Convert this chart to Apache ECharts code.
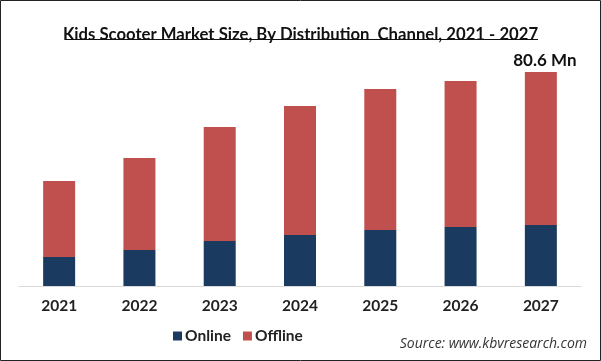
<!DOCTYPE html>
<html>
<head>
<meta charset="utf-8">
<script src="https://cdn.jsdelivr.net/npm/echarts@6/dist/echarts.min.js"></script>
<style>
html,body{margin:0;padding:0;background:#fff;}
#c{width:601px;height:361px;}
</style>
</head>
<body>
<div id="c"></div>
<script>
var years = ['2021','2022','2023','2024','2025','2026','2027'];
var online = [10.9, 13.6, 16.9, 19.2, 21.1, 22.2, 23.0];
var offline = [28.6, 34.6, 43.0, 48.6, 53.1, 55.0, 57.6];
var totalLabel = '80.6 Mn';

var chart = echarts.init(document.getElementById('c'));
var font = 'Lato, "Open Sans", sans-serif';
chart.setOption({
  backgroundColor: '#fff',
  animation: false,
  title: {
    text: 'Kids Scooter Market Size, By Distribution  Channel, 2021 - 2027',
    left: 'center', top: 21,
    textStyle: { fontFamily: font, fontWeight: 'bold', fontSize: 16.7, color: '#111' }
  },
  graphic: [
    { type: 'line', shape: { x1: 65, y1: 39.5, x2: 538, y2: 39.5 }, style: { stroke: '#111', lineWidth: 1 } },
    { type: 'rect', shape: { x: 0.5, y: 0.5, width: 600, height: 360 }, style: { fill: 'none', stroke: '#222', lineWidth: 1 } },
    { type: 'text', right: 14, top: 337, style: { text: 'Source: www.kbvresearch.com', font: 'italic 14px "Open Sans", sans-serif', fill: '#333' } }
  ],
  legend: {
    data: ['Online', 'Offline'],
    bottom: 12, left: 168,
    itemWidth: 9, itemHeight: 9, itemGap: 12, icon: 'rect',
    textStyle: { fontFamily: font, fontWeight: 'bold', fontSize: 15.5, color: '#222', padding: [0,0,0,-2] }
  },
  grid: { left: 19, right: 20, top: 47, bottom: 75 },
  xAxis: {
    type: 'category', data: years,
    axisLine: { lineStyle: { color: '#d9d9d9' } },
    axisTick: { show: false },
    axisLabel: { fontFamily: font, fontWeight: 'bold', fontSize: 15.5, color: '#222', margin: 12 }
  },
  yAxis: { type: 'value', min: 0, max: 90, show: false, splitLine: { show: false } },
  series: [
    { name: 'Online', type: 'bar', stack: 's', data: online, barWidth: 32, itemStyle: { color: '#1b3a5f' } },
    { name: 'Offline', type: 'bar', stack: 's', data: offline, barWidth: 32, itemStyle: { color: '#c0504d' },
      label: { show: true, position: 'top', distance: 3, offset: [4, 0], fontFamily: font, fontWeight: 'bold', fontSize: 17, color: '#111',
        formatter: function(p){ return p.dataIndex === years.length - 1 ? totalLabel : ''; } } }
  ]
});
</script>
</body>
</html>
